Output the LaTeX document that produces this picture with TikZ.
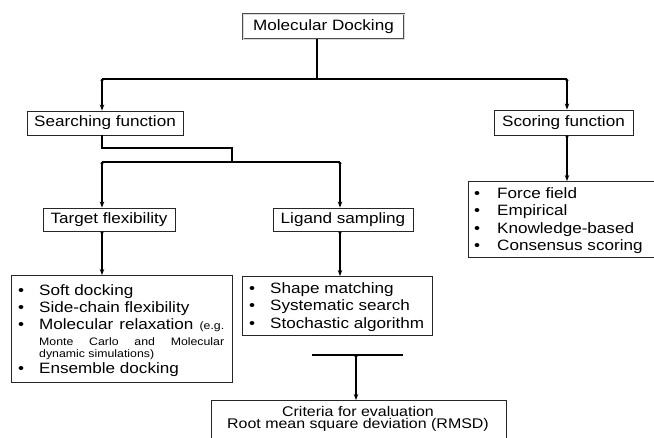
\documentclass[tikz,border=0pt]{standalone}
\usepackage{fontspec}
\setmainfont[FakeStretch=1.14]{Liberation Sans}
\usetikzlibrary{arrows.meta}
\newcommand{\mainsz}{\fontsize{15}{17}\selectfont}
\newcommand{\smallsz}{\fontsize{10.8}{12}\selectfont}
\newcommand{\critsz}{\fontsize{14}{12.5}\selectfont}
\newcommand{\bul}[1]{\makebox[#1][l]{\textbullet}}
\begin{document}
\begin{tikzpicture}[x=1pt,y=-1pt,
  box/.style={draw=black!85, line width=0.9pt, inner sep=0pt, font=\mainsz, text height=11pt, text depth=3.5pt},
  lbox/.style={draw=black!85, line width=0.9pt, inner sep=0pt, anchor=north west},
  li/.style={anchor=base west, inner sep=0pt, font=\mainsz},
  conn/.style={line width=1.3pt, black},
  arr/.style={conn, {Circle[length=2.6pt]}-{Stealth[length=6pt,width=4.5pt]}},
]
\useasboundingbox (0,0) rectangle (654,437);
\clip (0,0) rectangle (654,437);

% single-line boxes
\node[box, draw=gray!60!black, double=gray!30, double distance=0.8pt, line width=0.6pt,
      minimum width=161pt, minimum height=25pt] (md) at (323.5,26.5) {Molecular Docking};
\node[box, minimum width=156pt, minimum height=24pt] (sf) at (105,123) {Searching function};
\node[box, minimum width=139pt, minimum height=25pt] (sc) at (563.5,122.5) {Scoring function};
\node[box, minimum width=132pt, minimum height=23pt] (tf) at (109,219.5) {Target flexibility};
\node[box, minimum width=140pt, minimum height=23pt] (ls) at (343,219.5) {Ligand sampling};

% list boxes
\node[lbox, minimum width=221pt, minimum height=107pt] (tl) at (11,275) {};
\node[lbox, minimum width=190pt, minimum height=59pt] (ll) at (242,276) {};
\node[lbox, minimum width=200pt, minimum height=76pt] (sl) at (468,181) {};
\node[lbox, minimum width=295pt, minimum height=60pt] (cr) at (211,400) {};

% target flexibility list
\node[li] (t1) at (18,295) {\bul{21pt}Soft docking};
\node[li] (t2) at (18,312) {\bul{21pt}Side-chain flexibility};
\node[li] (t3) at (18,329.5) {\bul{21pt}\makebox[185pt][s]{Molecular relaxation {\smallsz(e.g.}}};
\node[li] (t4) at (39,345) {\smallsz\makebox[185pt][s]{Monte Carlo and Molecular}};
\node[li] (t5) at (39,357) {\smallsz dynamic simulations)};
\node[li] (t6) at (18,373) {\bul{21pt}Ensemble docking};

% ligand sampling list
\node[li] (l1) at (249,293) {\bul{21pt}Shape matching};
\node[li] (l2) at (249,310.5) {\bul{21pt}Systematic search};
\node[li] (l3) at (249,328) {\bul{21pt}Stochastic algorithm};

% scoring list
\node[li] (s1t) at (474,198) {\bul{23pt}Force field};
\node[li] (s2t) at (474,215.5) {\bul{23pt}Empirical};
\node[li] (s3t) at (474,233) {\bul{23pt}Knowledge-based};
\node[li] (s4t) at (474,250.5) {\bul{23pt}Consensus scoring};

% criteria
\node[anchor=base, inner sep=0pt, font=\critsz] (c1) at (358,416) {Criteria for evaluation};
\node[anchor=base, inner sep=0pt, font=\critsz] (c2) at (358,428.5) {Root mean square deviation (RMSD)};

% connectors
\coordinate (a) at (102,79);
\coordinate (b) at (567,79);
\coordinate (c) at (317,79);
\coordinate (s1) at (102,148);
\coordinate (s2) at (232,148);
\coordinate (d) at (232,162);
\coordinate (e) at (102,162);
\coordinate (f) at (340,162);
\coordinate (g1) at (312,355);
\coordinate (g2) at (403,355);
\coordinate (g) at (356,355);

\draw[conn] (md.south -| c) -- (c);
\draw[conn] (a) -- (b);
\draw[arr] (a) -- (sf.north -| a);
\draw[arr] (b) -- (sc.north -| b);
\draw[conn] (sf.south -| s1) -- (s1) -- (s2) -- (d);
\draw[conn] (e) -- (f);
\draw[arr] (e) -- (tf.north -| e);
\draw[arr] (f) -- (ls.north -| f);
\draw[arr] (tf.south -| e) -- (tl.north -| e);
\draw[arr] (ls.south -| f) -- (ll.north -| f);
\draw[arr] (sc.south -| b) -- (sl.north -| b);
\draw[conn] (g1) -- (g2);
\draw[arr] (g) -- (cr.north -| g);
\end{tikzpicture}
\end{document}
